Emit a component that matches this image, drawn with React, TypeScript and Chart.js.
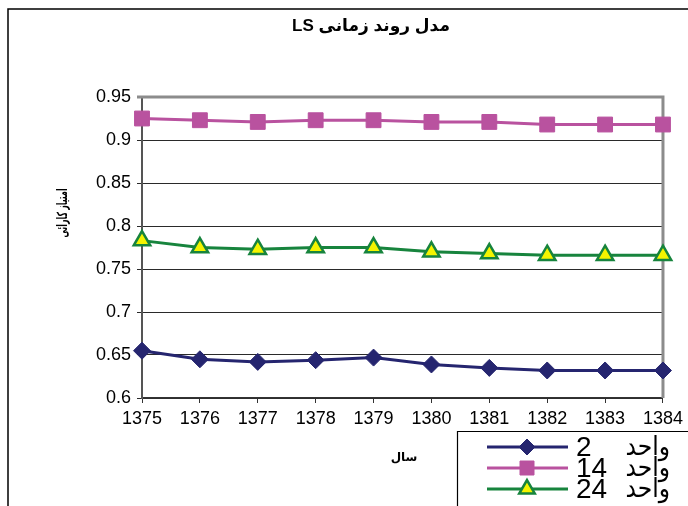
import React, { useEffect, useRef } from "react";
import { Chart, registerables } from "chart.js";

Chart.register(...registerables);

const years = ["1375", "1376", "1377", "1378", "1379", "1380", "1381", "1382", "1383", "1384"];
const unit2 = [0.655, 0.645, 0.642, 0.644, 0.647, 0.639, 0.635, 0.632, 0.632, 0.632];
const unit14 = [0.925, 0.923, 0.921, 0.923, 0.923, 0.921, 0.921, 0.918, 0.918, 0.918];
const unit24 = [0.783, 0.775, 0.773, 0.775, 0.775, 0.77, 0.768, 0.766, 0.766, 0.766];
const legendWord = "واحد";
const legendNumbers = ["2", "14", "24"];
const seriesLabels = legendNumbers.map((n) => legendWord + " " + n);
const chartTitle = "مدل روند زمانی LS";
const xTitle = "سال";
const yTitle = "امتیاز کارائی";
const yMin = 0.6;
const yMax = 0.95;
const yStep = 0.05;

const FONT = "'Liberation Sans', Arial, 'DejaVu Sans', sans-serif";

const decorPlugin = {
  id: "decor",
  beforeDatasetsDraw(chart: any) {
    const { ctx, chartArea } = chart;
    ctx.save();
    ctx.strokeStyle = "#8c8c8c";
    ctx.lineWidth = 3;
    ctx.beginPath();
    ctx.moveTo(chartArea.left - 5, chartArea.top);
    ctx.lineTo(chartArea.right, chartArea.top);
    ctx.lineTo(chartArea.right, chartArea.bottom);
    ctx.stroke();
    ctx.restore();
  },
  afterDraw(chart: any) {
    const { ctx } = chart;
    ctx.save();
    // outer frame
    ctx.strokeStyle = "#000";
    ctx.lineWidth = 1.5;
    ctx.beginPath();
    ctx.moveTo(8, 520);
    ctx.lineTo(8, 9);
    ctx.lineTo(700, 9);
    ctx.stroke();

    // title
    ctx.fillStyle = "#000";
    ctx.direction = "rtl";
    ctx.textAlign = "center";
    ctx.textBaseline = "middle";
    ctx.font = "bold 17px " + FONT;
    ctx.fillText(chartTitle, 371, 26);

    // x title
    ctx.font = "bold 12px " + FONT;
    ctx.fillText(xTitle, 404, 458);

    // y title
    ctx.save();
    ctx.translate(63, 213);
    ctx.rotate(-Math.PI / 2);
    ctx.scale(0.56, 1);
    ctx.font = "bold 14px " + FONT;
    ctx.fillText(yTitle, 0, 0);
    ctx.restore();

    // legend box
    ctx.direction = "ltr";
    ctx.fillStyle = "#fff";
    ctx.fillRect(458, 432, 260, 100);
    ctx.strokeStyle = "#000";
    ctx.lineWidth = 1.2;
    ctx.beginPath();
    ctx.moveTo(457.5, 520);
    ctx.lineTo(457.5, 431.5);
    ctx.lineTo(700, 431.5);
    ctx.stroke();

    const rows = [447, 468, 489];
    chart.data.datasets.forEach((ds: any, i: number) => {
      const y = rows[i];
      ctx.strokeStyle = ds.borderColor;
      ctx.lineWidth = 3;
      ctx.beginPath();
      ctx.moveTo(487, y);
      ctx.lineTo(568, y);
      ctx.stroke();
      const cx = 527;
      ctx.fillStyle = ds.pointBackgroundColor;
      ctx.strokeStyle = ds.pointBorderColor;
      ctx.lineWidth = ds.pointBorderWidth;
      ctx.beginPath();
      if (ds.pointStyle === "rectRot") {
        const r = 8;
        ctx.moveTo(cx, y - r);
        ctx.lineTo(cx + r, y);
        ctx.lineTo(cx, y + r);
        ctx.lineTo(cx - r, y);
        ctx.closePath();
      } else if (ds.pointStyle === "rect") {
        const h = 7;
        ctx.rect(cx - h, y - h, 2 * h, 2 * h);
      } else {
        const r = 9;
        ctx.moveTo(cx, y - r);
        ctx.lineTo(cx + r * 0.866, y + r / 2);
        ctx.lineTo(cx - r * 0.866, y + r / 2);
        ctx.closePath();
      }
      ctx.fill();
      ctx.stroke();

      ctx.fillStyle = "#000";
      ctx.textBaseline = "middle";
      ctx.textAlign = "left";
      ctx.font = "28px " + FONT;
      ctx.fillText(legendNumbers[i], 576, y + 1);
      ctx.save();
      ctx.translate(670, y + 1);
      ctx.scale(0.9, 1);
      ctx.textAlign = "right";
      ctx.font = "26px " + FONT;
      ctx.fillText(legendWord, 0, 0);
      ctx.restore();
    });
    ctx.restore();
  },
};

export default function App() {
  const ref = useRef<HTMLCanvasElement | null>(null);
  useEffect(() => {
    if (!ref.current) return;
    const chart = new Chart(ref.current, {
      type: "line",
      data: {
        labels: years,
        datasets: [
          {
            label: seriesLabels[0],
            data: unit2,
            borderColor: "#25256f",
            backgroundColor: "#25256f",
            pointBackgroundColor: "#25256f",
            pointBorderColor: "#25256f",
            pointBorderWidth: 1,
            pointStyle: "rectRot",
            pointRadius: 8.5,
            borderWidth: 3,
            tension: 0,
            clip: false,
          },
          {
            label: seriesLabels[1],
            data: unit14,
            borderColor: "#b9529f",
            backgroundColor: "#b9529f",
            pointBackgroundColor: "#b9529f",
            pointBorderColor: "#b9529f",
            pointBorderWidth: 1,
            pointStyle: "rect",
            pointRadius: 10.5,
            borderWidth: 3,
            tension: 0,
            clip: false,
          },
          {
            label: seriesLabels[2],
            data: unit24,
            borderColor: "#17843d",
            backgroundColor: "#f4f400",
            pointBackgroundColor: "#f4f400",
            pointBorderColor: "#17843d",
            pointBorderWidth: 2.5,
            pointStyle: "triangle",
            pointRadius: 9.5,
            borderWidth: 3,
            tension: 0,
            clip: false,
          },
        ] as any,
      },
      options: {
        animation: false,
        responsive: false,
        events: [],
        layout: { padding: { top: 97, right: 24, left: 0, bottom: 0 } },
        plugins: {
          legend: { display: false },
          title: { display: false },
          tooltip: { enabled: false },
        },
        scales: {
          x: {
            type: "category",
            offset: false,
            grid: { drawOnChartArea: false, drawTicks: true, tickLength: 5, color: "#333", lineWidth: 1 },
            border: { color: "#333", width: 1.5 },
            ticks: {
              color: "#000",
              font: { family: FONT, size: 18 },
              padding: 5,
              maxRotation: 0,
              autoSkip: false,
            },
            afterFit: (s: any) => {
              s.height = 108;
            },
          },
          y: {
            min: yMin,
            max: yMax,
            grid: {
              color: (c: any) =>
                c.tick && Math.abs(c.tick.value - yMax) < 1e-6 ? "rgba(0,0,0,0)" : "#2a2a2a",
              lineWidth: 1,
              tickLength: 5,
            },
            border: { color: "#555", width: 2 },
            ticks: {
              stepSize: yStep,
              color: "#000",
              font: { family: FONT, size: 18 },
              padding: 6,
              callback: (v: any) => String(Math.round(Number(v) * 100) / 100),
            },
            afterFit: (s: any) => {
              s.width = 142;
            },
          },
        },
      } as any,
      plugins: [decorPlugin],
    });
    return () => chart.destroy();
  }, []);
  return (
    <div style={{ position: "absolute", left: 0, top: 0, width: 688, height: 506, background: "#fff" }}>
      <canvas ref={ref} width={688} height={506} style={{ display: "block" }} />
    </div>
  );
}
